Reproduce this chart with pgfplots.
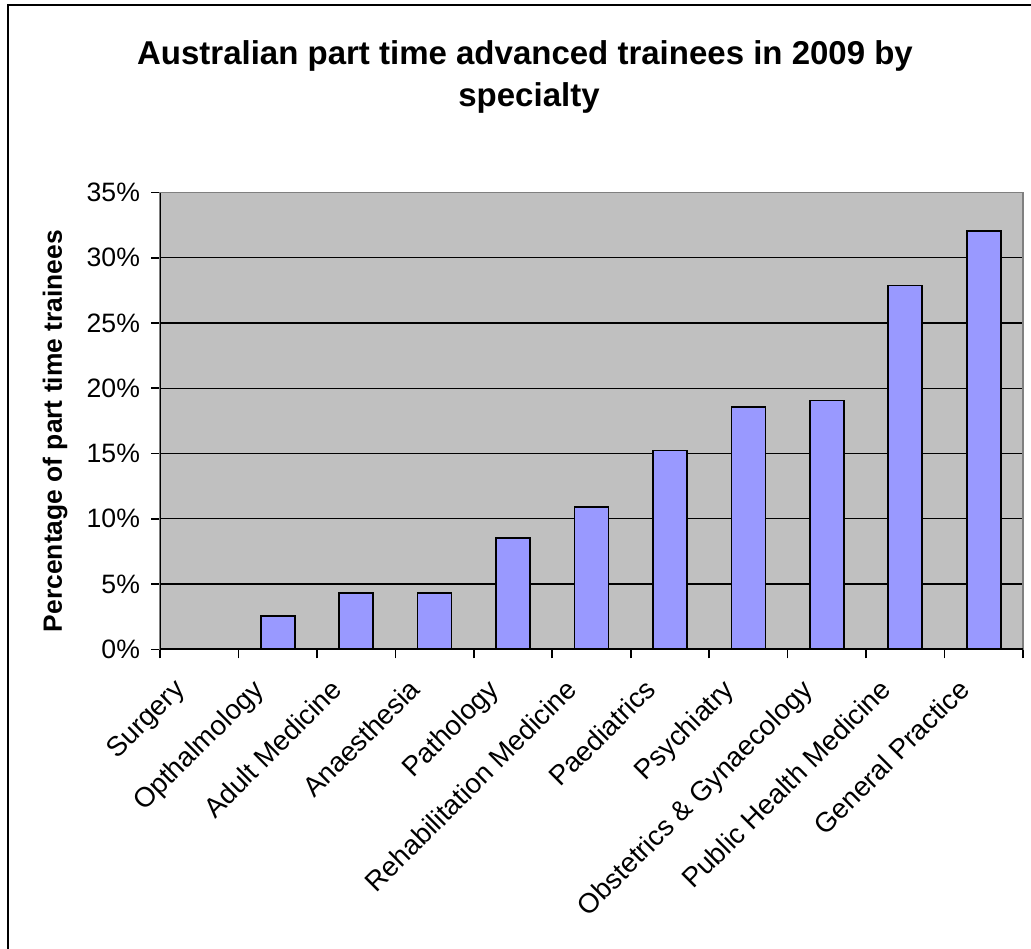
\documentclass[border=0pt]{standalone}
\usepackage{pgfplots}
\pgfplotsset{compat=1.18}
\usepackage{fontspec}
\setmainfont{Liberation Sans}
\definecolor{barblue}{HTML}{9999FF}
\definecolor{plotgray}{HTML}{C0C0C0}
\definecolor{edgegray}{HTML}{808080}
\begin{document}
\begin{tikzpicture}[x=0.5pt,y=0.5pt]
\useasboundingbox (0,0) rectangle (1031,948);
% outer chart frame (right and bottom edges lie outside the crop)
\draw[line width=1pt] (8,-10) -- (8,943) -- (1045,943);
\node[anchor=base,font=\fontsize{16.5}{20}\selectfont\bfseries] at (525,883)
  {Australian part time advanced trainees in 2009 by};
\node[anchor=base,font=\fontsize{16.5}{20}\selectfont\bfseries] at (529,841)
  {specialty};
\node[rotate=90,font=\fontsize{13.2}{16}\selectfont\bfseries] at (55,517)
  {Percentage of part time trainees};
\begin{axis}[
  at={(80pt,149.35pt)}, anchor=south west,
  scale only axis, width=431.5pt, height=228.4pt,
  ybar, bar width=17pt,
  xmin=-0.5, xmax=10.5, ymin=0, ymax=35,
  axis background/.style={fill=plotgray},
  axis line style={edgegray, line width=0.8pt},
  ytick={0,5,...,35},
  yticklabel={\pgfmathprintnumber{\tick}\%},
  /pgf/number format/assume math mode=true,
  ymajorgrids, major grid style={black, line width=0.7pt},
  tick align=outside, major tick length=4.5pt, minor tick length=4.5pt,
  tick style={black, line width=0.8pt},
  ytick pos=left, xtick pos=bottom,
  xtick={0,...,10},
  major x tick style={draw=none},
  minor xtick={-0.5,0.5,...,10.5},
  xticklabels={Surgery, Opthalmology, Adult Medicine, Anaesthesia, Pathology,
    Rehabilitation Medicine, Paediatrics, Psychiatry,
    Obstetrics \& Gynaecology, Public Health Medicine, General Practice},
  x tick label style={xshift=-13.5pt, yshift=-4.5pt, rotate=45, anchor=north east,
    font=\fontsize{13.8}{16}\selectfont},
  y tick label style={xshift=-2pt, font=\fontsize{13.3}{16}\selectfont},
]
\addplot[fill=barblue, draw=black, line width=0.9pt] coordinates {
  (0,0) (1,2.57) (2,4.29) (3,4.29) (4,8.5) (5,10.9)
  (6,15.24) (7,18.58) (8,19.07) (9,27.87) (10,32.05)
};
\draw[black, line width=1pt] (rel axis cs:0,0) -- (rel axis cs:0,1);
\draw[black, line width=1pt] (rel axis cs:0,0) -- (rel axis cs:1,0);
\end{axis}
\end{tikzpicture}
\end{document}
